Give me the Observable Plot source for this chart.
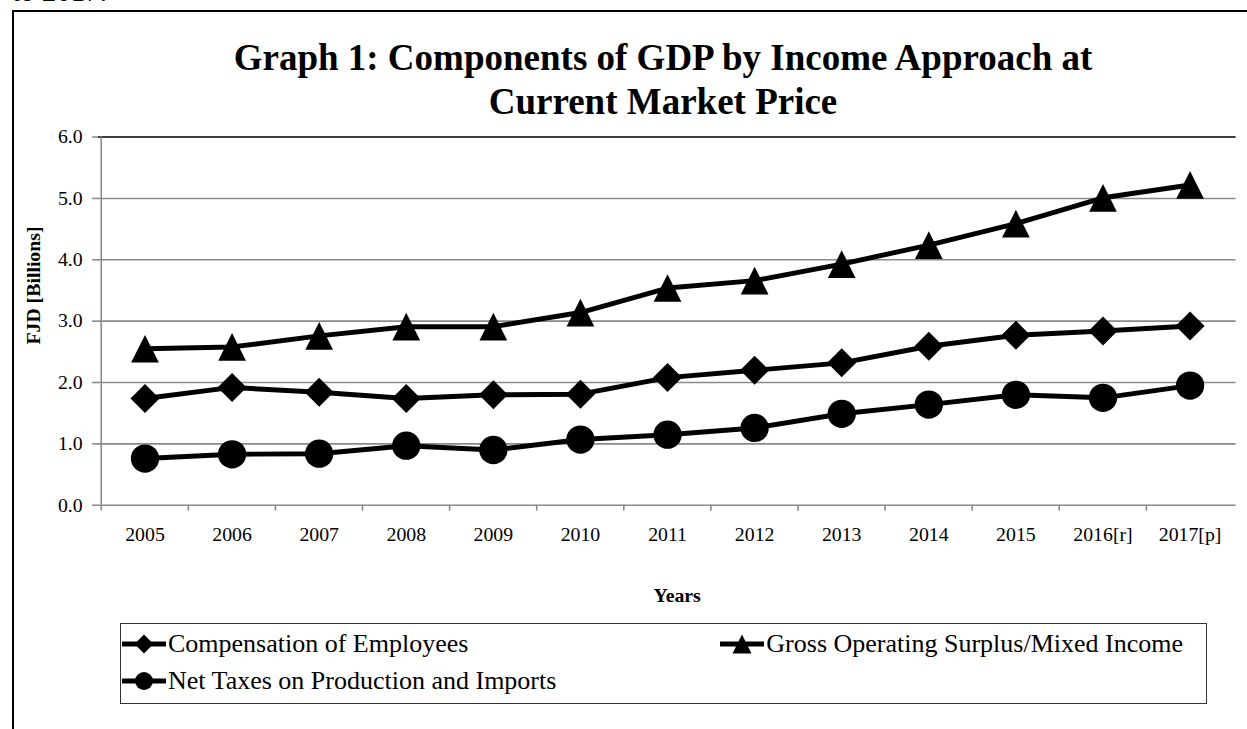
<!DOCTYPE html>
<html><head><meta charset="utf-8">
<script src="https://cdn.jsdelivr.net/npm/d3@7"></script>
<script src="https://cdn.jsdelivr.net/npm/@observablehq/plot@0.6"></script>
<style>
html,body{margin:0;padding:0;width:1247px;height:729px;overflow:hidden;background:#fff;font-family:"Liberation Serif","Times New Roman",serif;color:#000;}
#pre{position:absolute;left:12px;top:-25px;font-size:29px;line-height:33px;white-space:nowrap;}
#frame{position:absolute;left:12px;top:10px;width:1300px;height:800px;border:2px solid #000;box-sizing:border-box;}
#title{position:absolute;left:0;width:1326px;top:36px;text-align:center;font-weight:bold;font-size:37px;line-height:44px;}
#chart{position:absolute;left:0;top:0;}
#legend{position:absolute;left:120px;top:623px;width:1087px;height:81px;border:1px solid #333;box-sizing:border-box;background:#fff;}
.item{position:absolute;display:flex;align-items:center;font-size:26px;white-space:nowrap;}
.item svg{display:block;margin-right:2px;}
</style></head>
<body>
<div id="pre">to 2017.</div>
<div id="frame"></div>
<div id="chart"></div>
<div id="title">Graph 1: Components of GDP by Income Approach at<br>Current Market Price</div>
<div id="legend"></div>
<script>
// ---- data ----
const years = ["2005","2006","2007","2008","2009","2010","2011","2012","2013","2014","2015","2016[r]","2017[p]"];
const compensation = [1.74, 1.92, 1.84, 1.74, 1.80, 1.81, 2.08, 2.20, 2.32, 2.59, 2.77, 2.84, 2.92];
const grossOperating = [2.55, 2.58, 2.76, 2.91, 2.91, 3.14, 3.54, 3.66, 3.93, 4.24, 4.59, 5.01, 5.22];
const netTaxes = [0.76, 0.83, 0.84, 0.97, 0.90, 1.07, 1.15, 1.26, 1.49, 1.64, 1.80, 1.75, 1.95];
const seriesNames = ["Compensation of Employees", "Gross Operating Surplus/Mixed Income", "Net Taxes on Production and Imports"];
const yTicks = [0, 1, 2, 3, 4, 5, 6];
const yLabel = "FJD [Billions]";
const xLabel = "Years";

const seriesValues = [compensation, grossOperating, netTaxes];
const rows = [];
seriesNames.forEach((s, k) => years.forEach((yr, i) => rows.push({series: s, year: yr, value: seriesValues[k][i]})));

// custom triangle symbol (as wide as tall)
const tri = {draw(ctx, size) { const r = Math.sqrt(size / Math.PI); ctx.moveTo(0, -r); ctx.lineTo(r, r); ctx.lineTo(-r, r); ctx.closePath(); }};
const symbols = ["diamond2", tri, "circle"];
const radii = [13.2, 14, 14.3];

const W = 1260, H = 729;
const L = 99, R = 1248.5, T = 138, B = 510;
const bw = (R - L) / years.length;
const gray = "#8a8a8a";
const font = "Liberation Serif, Times New Roman, serif";

const chart = Plot.plot({
  width: W, height: H,
  marginLeft: L, marginRight: W - R, marginTop: T, marginBottom: H - B,
  style: {fontFamily: font, fontSize: "20px", color: "#000", background: "transparent", overflow: "visible"},
  x: {type: "band", domain: years, padding: 0},
  y: {domain: [0, 6]},
  marks: [
    Plot.ruleY(yTicks.filter(d => d < 6), {stroke: gray, strokeWidth: 1.6}),
    Plot.ruleY([6], {stroke: "#000", strokeWidth: 1.6}),
    Plot.ruleX([years[0]], {dx: -bw / 2, stroke: gray, strokeWidth: 1.6}),
    Plot.axisY({ticks: yTicks, tickFormat: d => d.toFixed(1), tickSize: 6, tickPadding: 10, stroke: gray, strokeWidth: 1.6, fontSize: 20, label: null}),
    Plot.axisX({tickSize: 0, tickPadding: 22, fontSize: 20, label: null}),
    Plot.axisX({tickSize: 6, tickFormat: () => "", dx: -bw / 2, stroke: gray, strokeWidth: 1.6, label: null}),
    Plot.text([yLabel], {text: d => d, frameAnchor: "left", textAnchor: "middle", lineAnchor: "middle", dx: -66, dy: -36, rotate: -90, fontWeight: "bold", fontSize: 20}),
    Plot.text([xLabel], {text: d => d, frameAnchor: "bottom", dx: 10, dy: 98, fontWeight: "bold", fontSize: 20}),
    Plot.line(rows, {x: "year", y: "value", z: "series", stroke: "#000", strokeWidth: 5}),
    ...seriesNames.map((s, k) => Plot.dot(rows.filter(d => d.series === s), {x: "year", y: "value", symbol: symbols[k], r: radii[k], fill: "#000", stroke: "none"}))
  ]
});
document.getElementById("chart").appendChild(chart);

// legend
const legend = d3.select("#legend");
const legendPos = [{left: "1px", top: "5px"}, {right: "23px", top: "5px"}, {left: "1px", top: "42px"}];
const legendR = [8.5, 9.5, 9];
seriesNames.forEach((s, k) => {
  const item = legend.append("div").attr("class", "item");
  Object.entries(legendPos[k]).forEach(([p, v]) => item.style(p, v));
  const svg = item.append("svg").attr("width", 44).attr("height", 30);
  svg.append("line").attr("x1", 0).attr("x2", 44).attr("y1", 15).attr("y2", 15).attr("stroke", "#000").attr("stroke-width", 5);
  const sym = typeof symbols[k] === "string" ? (symbols[k] === "circle" ? d3.symbolCircle : d3.symbolDiamond2) : symbols[k];
  svg.append("path").attr("transform", "translate(22,15)").attr("d", d3.symbol(sym, Math.PI * legendR[k] * legendR[k])()).attr("fill", "#000");
  item.append("span").text(s);
});
</script>
</body></html>
